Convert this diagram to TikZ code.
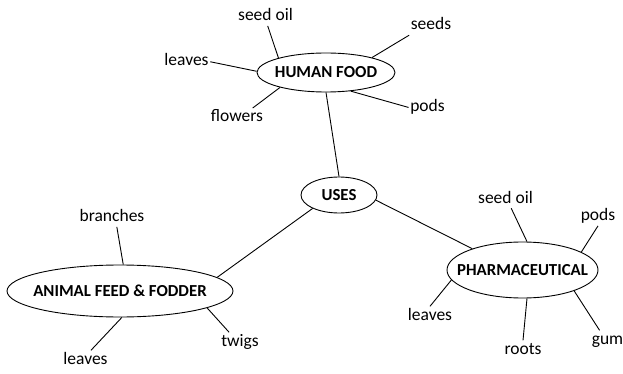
\documentclass[tikz,border=0pt]{standalone}
\usepackage{fontspec}
\setmainfont{Carlito}
\usetikzlibrary{shapes.geometric}

\begin{document}
\begin{tikzpicture}[
  x=1pt, y=-1pt,
  oval/.style 2 args={ellipse, draw, line width=0.9pt, inner sep=0pt,
    minimum width=#1, minimum height=#2, font=\bfseries\fontsize{16.8}{20}\selectfont},
  item/.style={font=\fontsize{17.5}{20}\selectfont, inner sep=1.5pt, anchor=base,
    text height=12pt, text depth=3.5pt},
  link/.style={line width=0.9pt}
]
\useasboundingbox (0,0) rectangle (623,374);

\node[oval={138pt}{39pt}] (food) at (326,72.5) {\makebox[0pt]{HUMAN FOOD}};
\node[oval={76pt}{36pt}] (uses) at (339,195) {\makebox[0pt]{USES}};
\node[oval={226pt}{52pt}] (feed) at (120,291) {\makebox[0pt]{ANIMAL FEED \& FODDER}};
\node[oval={151pt}{56pt}] (pharma) at (522.5,270) {\makebox[0pt]{PHARMACEUTICAL}};

% human food
\node[item] (foodoil) at (265.5,20.7) {seed oil};
\node[item] (foodseeds) at (431,30) {seeds};
\node[item] (foodleaves) at (186.5,66) {leaves};
\node[item] (foodflowers) at (237,121.7) {flowers};
\node[item] (foodpods) at (427.5,111.7) {pods};
% animal feed
\node[item] (feedbranches) at (112,221.7) {branches};
\node[item] (feedleaves) at (85.5,364) {leaves};
\node[item] (feedtwigs) at (240,346) {twigs};
% pharmaceutical
\node[item] (pharmaoil) at (505.5,203) {seed oil};
\node[item] (pharmapods) at (598,220.7) {pods};
\node[item] (pharmaleaves) at (430,320) {leaves};
\node[item] (pharmaroots) at (523,354) {roots};
\node[item] (pharmagum) at (607.5,344) {gum};

\draw[link] (food.south) -- (uses.north);
\draw[link] (uses.207) -- (feed.8);
\draw[link] (uses.352) -- (pharma.157);

\draw[link] (food.163) -- (foodoil.-77);
\draw[link] (food.18) -- (foodseeds.south west);
\draw[link] (food.179) -- (foodleaves.east);
\draw[link] (food.198) -- (foodflowers.31);
\draw[link] (food.323) -- (foodpods.west);

\draw[link] (feed.83) -- (feedbranches.-63);
\draw[link] (feed.274) -- (feedleaves.60);
\draw[link] (feed.349) -- (feedtwigs.139);

\draw[link] (pharma.81) -- (pharmaoil.-59);
\draw[link] (pharma.17) -- (pharmapods.south);
\draw[link] (pharma.188) -- (pharmaleaves.north);
\draw[link] (pharma.279) -- (pharmaroots.north);
\draw[link] (pharma.338) -- (pharmagum.130);
\end{tikzpicture}
\end{document}
